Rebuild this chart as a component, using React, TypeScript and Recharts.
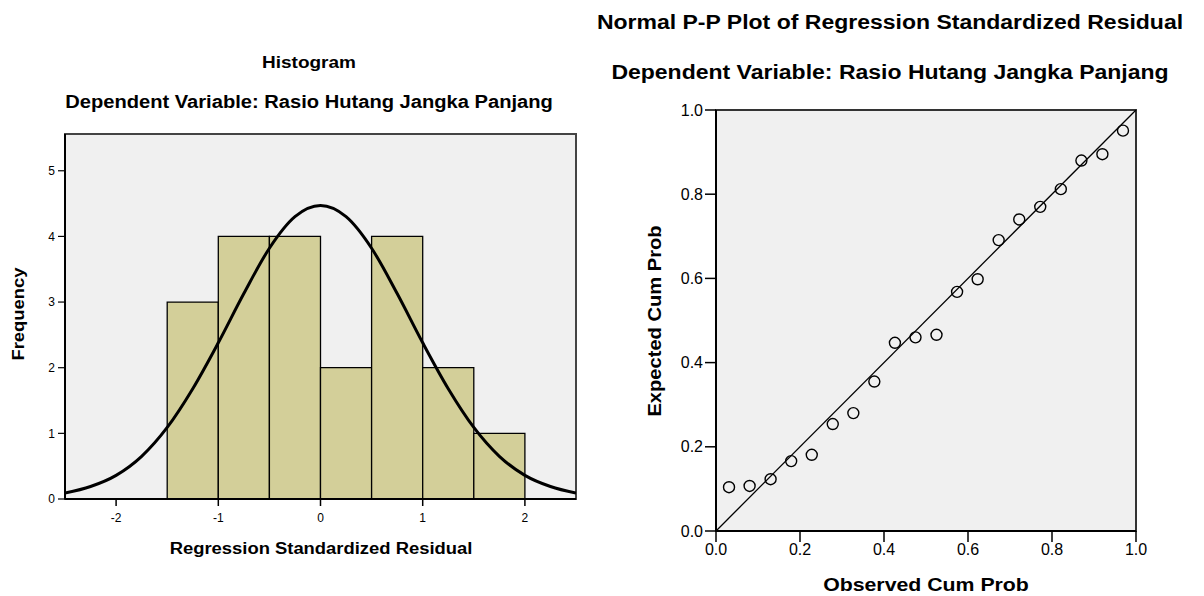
import React from "react";
import {
  ComposedChart,
  Line,
  Scatter,
  XAxis,
  YAxis,
  CartesianGrid,
  ReferenceArea,
  ReferenceLine,
} from "recharts";

// histogram bins (regression standardized residual)
const binStart = [-1.5, -1, -0.5, 0, 0.5, 1, 1.5];
const binEnd = [-1, -0.5, 0, 0.5, 1, 1.5, 2];
const binCount = [3, 4, 4, 2, 4, 2, 1];

// normal curve
const curveX = [-2.5, -2.25, -2, -1.75, -1.5, -1.25, -1, -0.75, -0.5, -0.25, 0, 0.25, 0.5, 0.75, 1, 1.25, 1.5, 1.75, 2, 2.25, 2.5];
const curveY = [0.09, 0.19, 0.36, 0.65, 1.09, 1.68, 2.38, 3.13, 3.82, 4.3, 4.47, 4.3, 3.82, 3.13, 2.38, 1.68, 1.09, 0.65, 0.36, 0.19, 0.09];

const histXTicks = [-2, -1, 0, 1, 2];
const histYTicks = [0, 1, 2, 3, 4, 5];

// P-P plot points
const observedCum = [0.031, 0.08, 0.13, 0.179, 0.228, 0.278, 0.327, 0.377, 0.426, 0.475, 0.525, 0.574, 0.623, 0.673, 0.722, 0.772, 0.821, 0.87, 0.92, 0.969];
const expectedCum = [0.104, 0.107, 0.123, 0.166, 0.181, 0.254, 0.28, 0.355, 0.447, 0.46, 0.466, 0.568, 0.598, 0.691, 0.74, 0.77, 0.812, 0.88, 0.895, 0.951];
const ppTicks = [0, 0.2, 0.4, 0.6, 0.8, 1];

const FONT = '"Liberation Sans", Arial, Helvetica, sans-serif';

const curve = curveX.map((x, i) => ({ x, y: curveY[i] }));
const bins = binStart.map((s, i) => ({ s, e: binEnd[i], n: binCount[i] }));
const ppPoints = observedCum.map((x, i) => ({ x, y: expectedCum[i] }));

function Txt({ x, y, size, rotate = 0, children }: { x: number; y: number; size: number; rotate?: number; children: React.ReactNode }) {
  return (
    <div
      style={{
        position: "absolute",
        left: x,
        top: y,
        transform: `translate(-50%, -50%) rotate(${rotate}deg) scaleX(1.15)`,
        whiteSpace: "nowrap",
        fontFamily: FONT,
        fontWeight: "bold",
        fontSize: size,
        lineHeight: 1,
        color: "#000",
      }}
    >
      {children}
    </div>
  );
}

const Circle = (props: any) => (
  <circle cx={props.cx} cy={props.cy} r={5.5} fill="none" stroke="#000" strokeWidth={1.4} />
);

export default function App() {
  return (
    <div
      style={{
        position: "absolute",
        left: 0,
        top: 0,
        width: 1204,
        height: 596,
        background: "#fff",
        overflow: "hidden",
      }}
    >
      <div style={{ position: "absolute", left: 0, top: 0 }}>
        <ComposedChart width={600} height={596} data={curve} margin={{ top: 134, right: 24, bottom: 67, left: 0 }}>
          <CartesianGrid fill="#f0f0f0" horizontal={false} vertical={false} />
          <XAxis
            dataKey="x"
            type="number"
            domain={[-2.5, 2.5]}
            ticks={histXTicks}
            allowDataOverflow
            height={30}
            axisLine={{ stroke: "#000", strokeWidth: 2 }}
            tickLine={{ stroke: "#000", strokeWidth: 1.5 }}
            tickSize={7}
            tickMargin={7}
            tick={{ fill: "#000", fontSize: 12, fontFamily: FONT }}
          />
          <YAxis
            type="number"
            domain={[0, 5.56]}
            ticks={histYTicks}
            allowDataOverflow
            width={65}
            axisLine={{ stroke: "#000", strokeWidth: 2 }}
            tickLine={{ stroke: "#000", strokeWidth: 1.2 }}
            tickSize={7}
            tickMargin={3}
            tick={{ fill: "#000", fontSize: 12, fontFamily: FONT }}
          />
          {bins.map((b) => (
            <ReferenceArea
              key={b.s}
              x1={b.s}
              x2={b.e}
              y1={0}
              y2={b.n}
              fill="#d3cf99"
              fillOpacity={1}
              stroke="#000"
              strokeWidth={1.3}
              ifOverflow="visible"
            />
          ))}
          <Line dataKey="y" type="monotone" stroke="#000" strokeWidth={3} dot={false} isAnimationActive={false} />
          <ReferenceArea x1={-2.5} x2={2.5} y1={0} y2={5.56} fill="none" stroke="#444" strokeWidth={2} ifOverflow="visible" />
        </ComposedChart>
      </div>

      <div style={{ position: "absolute", left: 600, top: 0 }}>
        <ComposedChart width={604} height={596} margin={{ top: 110, right: 68, bottom: 35, left: 0 }}>
          <CartesianGrid fill="#f0f0f0" horizontal={false} vertical={false} />
          <XAxis
            dataKey="x"
            type="number"
            domain={[0, 1]}
            ticks={ppTicks}
            tickFormatter={(v: number) => v.toFixed(1)}
            height={30}
            axisLine={{ stroke: "#000", strokeWidth: 2 }}
            tickLine={{ stroke: "#000", strokeWidth: 1.5 }}
            tickSize={11}
            tickMargin={2}
            tick={{ fill: "#000", fontSize: 16, fontFamily: FONT }}
          />
          <YAxis
            dataKey="y"
            type="number"
            domain={[0, 1]}
            ticks={ppTicks}
            tickFormatter={(v: number) => v.toFixed(1)}
            width={116}
            axisLine={{ stroke: "#000", strokeWidth: 2 }}
            tickLine={{ stroke: "#000", strokeWidth: 1.5 }}
            tickSize={11}
            tickMargin={2}
            tick={{ fill: "#000", fontSize: 16, fontFamily: FONT }}
          />
          <ReferenceLine segment={[{ x: 0, y: 0 }, { x: 1, y: 1 }]} stroke="#000" strokeWidth={1.3} />
          <Scatter data={ppPoints} dataKey="y" shape={Circle} isAnimationActive={false} />
          <ReferenceArea x1={0} x2={1} y1={0} y2={1} fill="none" stroke="#333" strokeWidth={2} ifOverflow="visible" />
        </ComposedChart>
      </div>

      <Txt x={309} y={62} size={16.5}>Histogram</Txt>
      <Txt x={309} y={103} size={17.5}>Dependent Variable: Rasio Hutang Jangka Panjang</Txt>
      <Txt x={321} y={549} size={16}>Regression Standardized Residual</Txt>
      <Txt x={19} y={314} size={16} rotate={-90}>Frequency</Txt>

      <Txt x={890} y={22} size={20}>Normal P-P Plot of Regression Standardized Residual</Txt>
      <Txt x={890} y={72} size={20}>Dependent Variable: Rasio Hutang Jangka Panjang</Txt>
      <Txt x={926} y={585} size={18.5}>Observed Cum Prob</Txt>
      <Txt x={656} y={321} size={17.5} rotate={-90}>Expected Cum Prob</Txt>
    </div>
  );
}
